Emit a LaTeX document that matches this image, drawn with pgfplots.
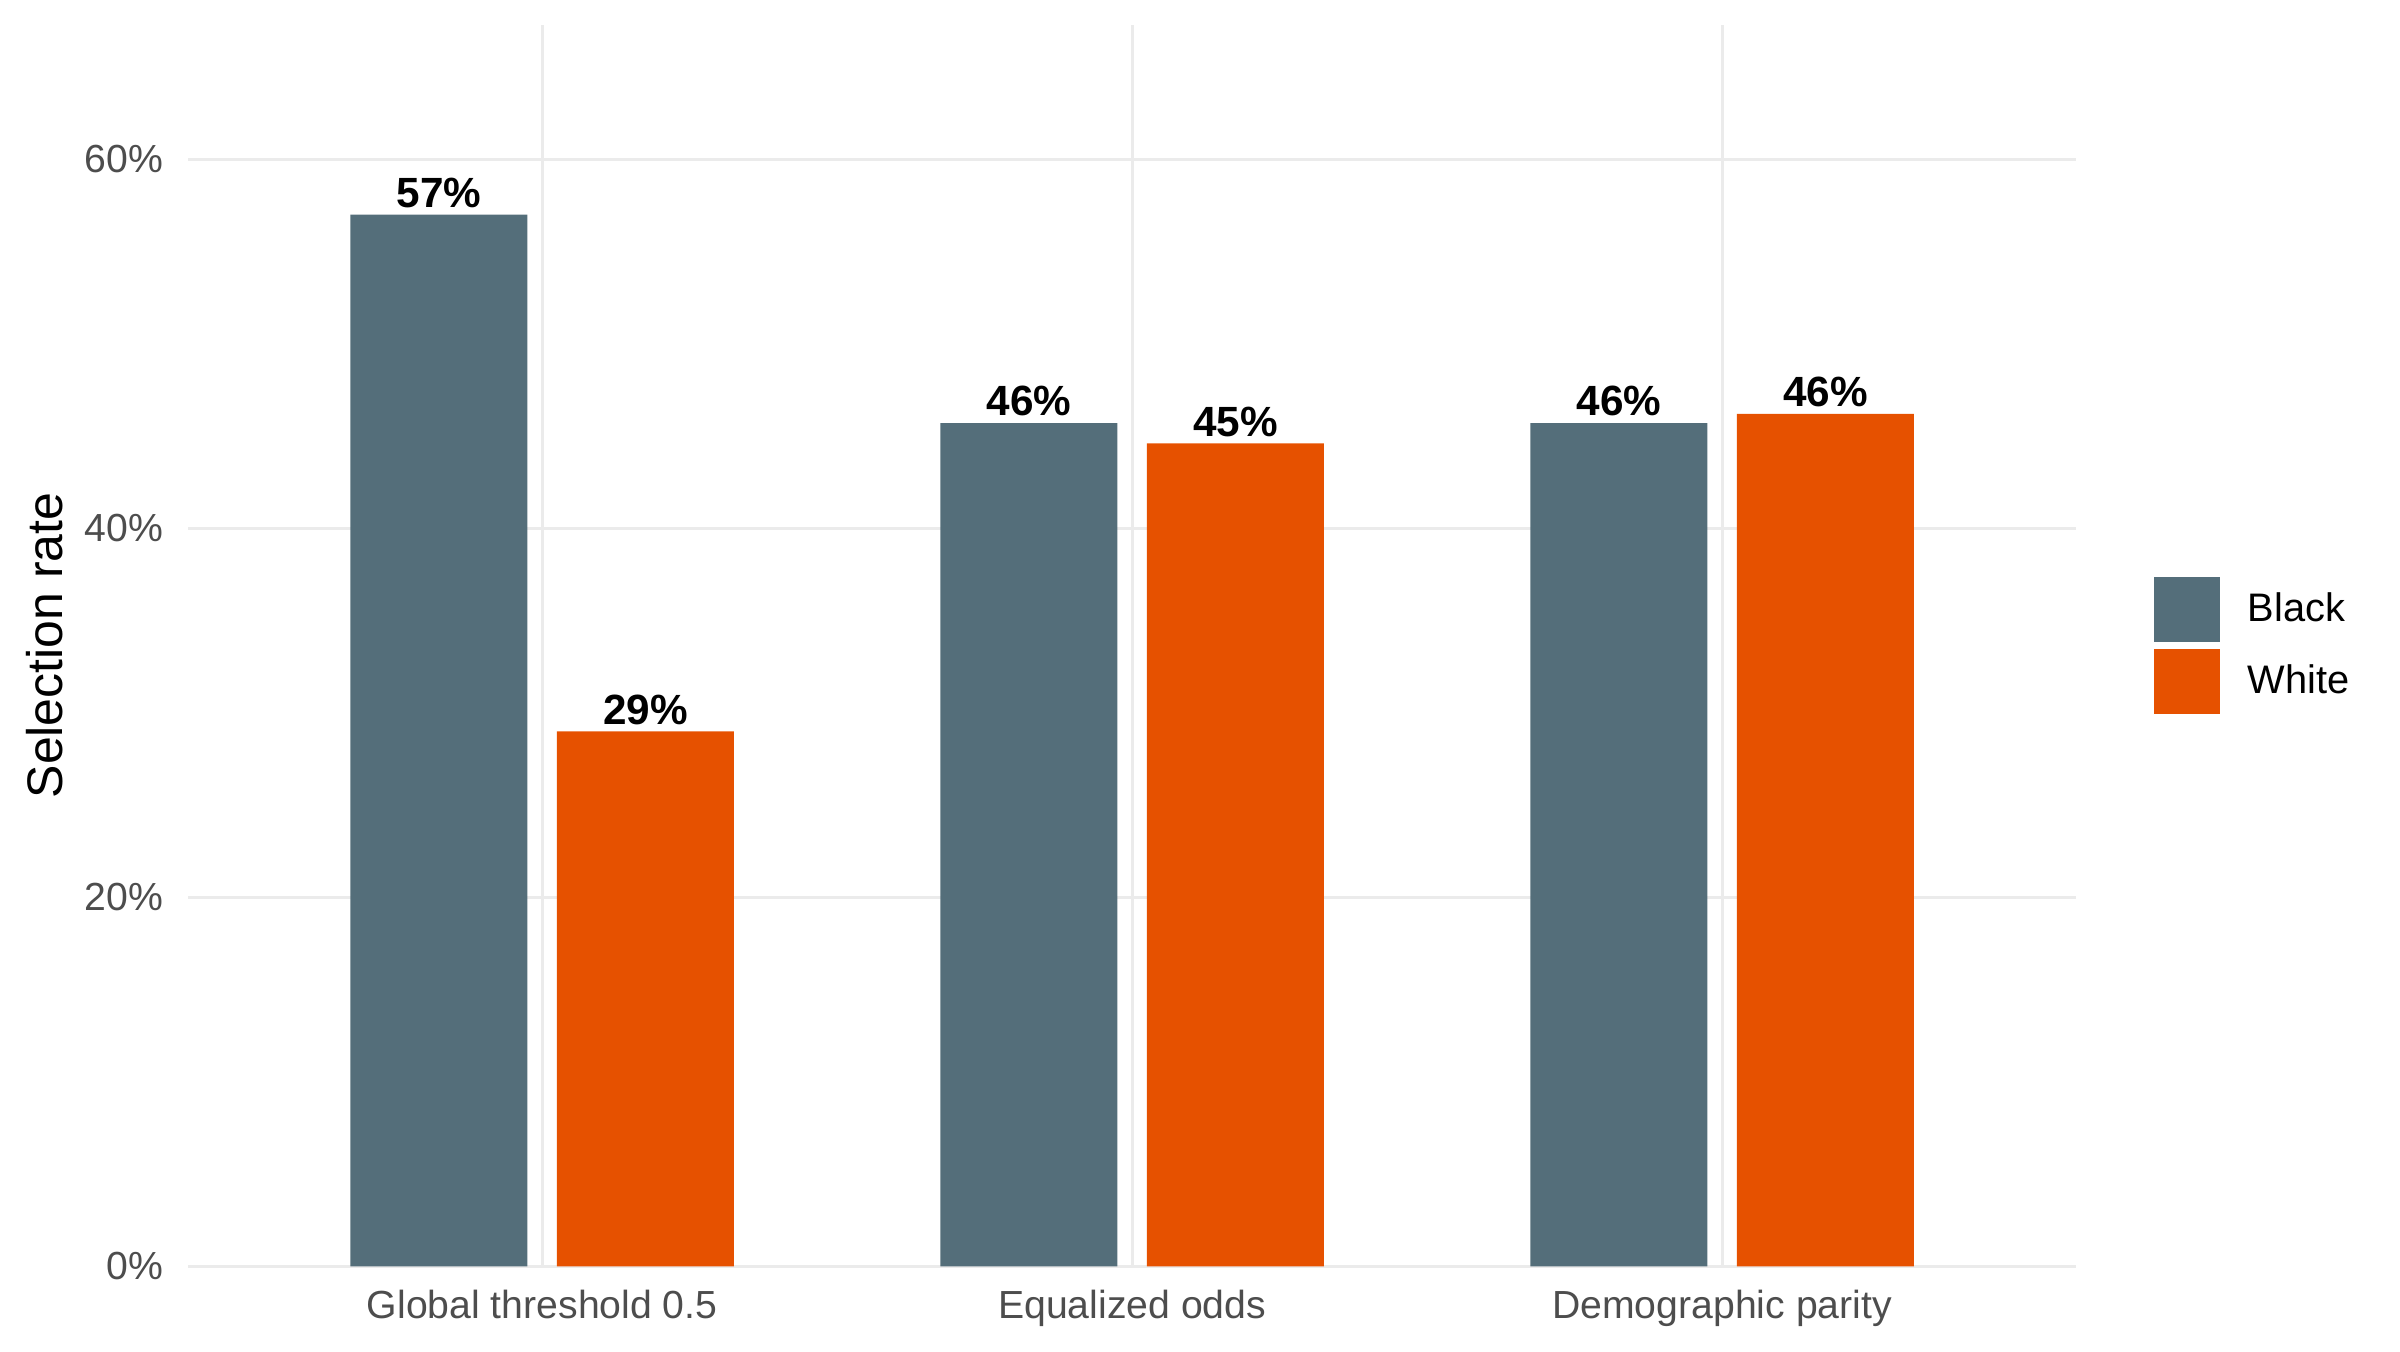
\documentclass[border=0pt]{standalone}
\usepackage{pgfplots}
\pgfplotsset{compat=1.18}
\usepackage{fontspec}
\setmainfont{Liberation Sans}
\definecolor{cblack}{HTML}{546E7A}
\definecolor{cwhite}{HTML}{E65100}
\definecolor{gridc}{HTML}{EBEBEB}
\definecolor{tickc}{HTML}{4D4D4D}
\begin{document}
\begin{tikzpicture}
\useasboundingbox (-61pt,-27.5pt) rectangle (717pt,410.5pt);
\begin{axis}[
  at={(0,0)}, anchor=south west,
  scale only axis, width=612pt, height=402.5pt,
  xmin=0.4, xmax=3.6, ymin=0, ymax=67.3,
  ybar, bar width=0.3,
  axis line style={draw=none},
  major tick length=0pt,
  grid=major,
  major grid style={color=gridc, line width=1pt},
  xtick={1,2,3},
  xticklabels={Global threshold 0.5, Equalized odds, Demographic parity},
  ytick={0,20,40,60},
  yticklabels={0\%,20\%,40\%,60\%},
  tick label style={font=\fontsize{12.7}{15}\selectfont, text=tickc},
  xticklabel style={inner sep=0pt, anchor=north, yshift=-7.5pt},
  yticklabel style={inner sep=0pt, anchor=east, xshift=-8pt},
  ylabel={Selection rate},
  ylabel style={at={(axis description cs:-0.076,0.5)}, anchor=center, font=\fontsize{16.2}{19}\selectfont, text=black},
  point meta=explicit symbolic,
  nodes near coords,
  nodes near coords style={font=\bfseries\fontsize{13.7}{16}\selectfont, anchor=south, inner sep=0pt, yshift=2pt, text=black},
  legend image code/.code={\fill[#1] (0pt,-10.5pt) rectangle (21.5pt,10.5pt);},
  legend cell align=left,
  legend style={at={(axis description cs:1.0408,0.5)}, anchor=west, draw=none, fill=none, inner sep=0pt, row sep=2.5pt,
    nodes={inner sep=0pt, font=\fontsize{12.9}{15}\selectfont, text=black},
    /tikz/every odd column/.append style={column sep=9pt}},
]
\addplot[fill=cblack, draw=none, bar shift=0pt] coordinates {
  (0.825,57.0) [57\%]
  (1.825,45.7) [46\%]
  (2.825,45.7) [46\%]
};
\addlegendentry{Black}
\addplot[fill=cwhite, draw=none, bar shift=0pt] coordinates {
  (1.175,29.0) [29\%]
  (2.175,44.6) [45\%]
  (3.175,46.2) [46\%]
};
\addlegendentry{White}
\end{axis}
\end{tikzpicture}
\end{document}
